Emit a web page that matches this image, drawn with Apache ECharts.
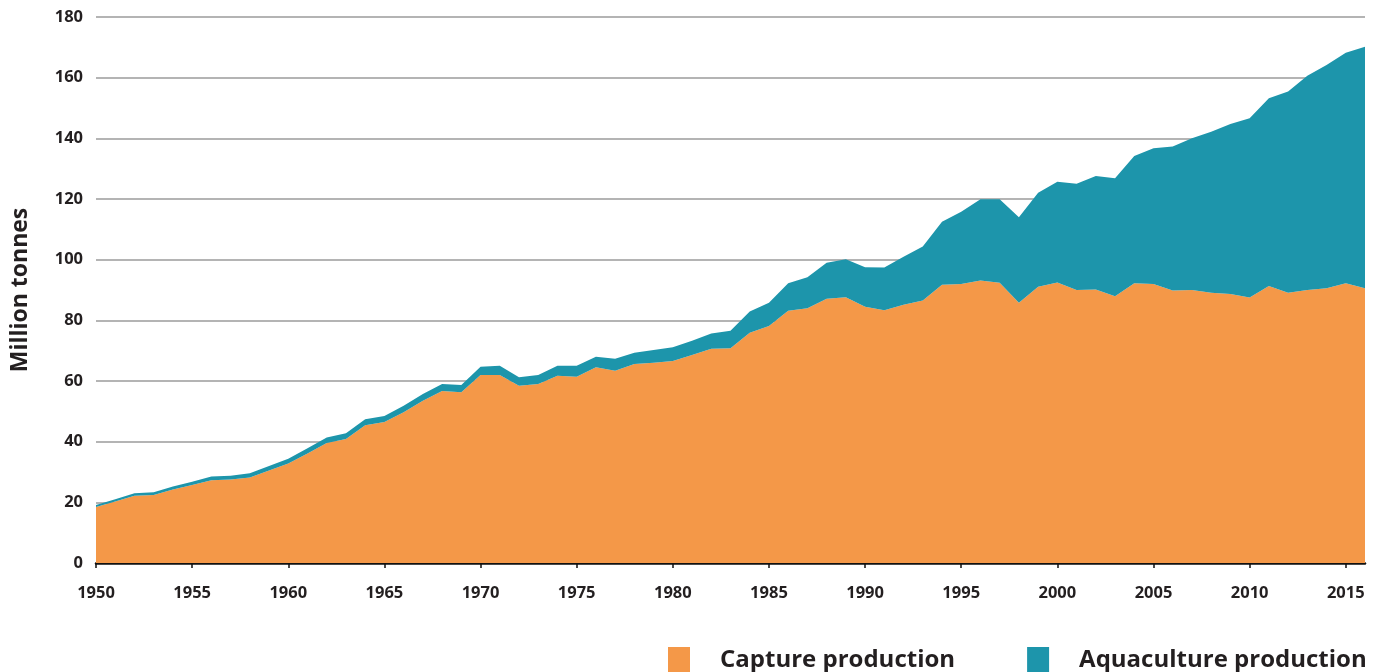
<!DOCTYPE html>
<html>
<head>
<meta charset="utf-8">
<title>World capture fisheries and aquaculture production</title>
<script src="https://cdn.jsdelivr.net/npm/echarts@6/dist/echarts.min.js"></script>
<style>
  html, body { margin: 0; padding: 0; background: #fff; }
  #chart { width: 1378px; height: 672px; }
</style>
</head>
<body>
<div id="chart"></div>
<script>
// million tonnes
const years = [];
for (let y = 1950; y <= 2016; y++) years.push(String(y));

const capture = [
  18.5, 20.3, 22.2, 22.4, 24.2, 25.7, 27.3, 27.5, 28.2, 30.5, // 1950s
  32.8, 36.1, 39.6, 40.9, 45.4, 46.5, 49.7, 53.5, 56.7, 56.3, // 1960s
  62.0, 62.0, 58.4, 59.0, 61.7, 61.4, 64.5, 63.4, 65.6, 66.0, // 1970s
  66.6, 68.6, 70.6, 70.8, 75.9, 78.1, 83.2, 84.0, 87.1, 87.6, // 1980s
  84.5, 83.3, 85.1, 86.5, 91.7, 92.0, 93.1, 92.4, 85.8, 91.1, // 1990s
  92.5, 90.0, 90.2, 87.9, 92.2, 92.0, 89.8, 90.0, 89.1, 88.7, // 2000s
  87.5, 91.3, 89.1, 90.0, 90.6, 92.2, 90.6                    // 2010s
];

const aquaculture = [
  0.6, 0.7, 0.8, 0.9, 1.0, 1.1, 1.2, 1.3, 1.4, 1.5,
  1.6, 1.7, 1.8, 1.9, 2.0, 2.0, 2.1, 2.2, 2.3, 2.4,
  2.7, 3.0, 2.8, 3.0, 3.3, 3.6, 3.5, 3.9, 3.7, 4.2,
  4.5, 4.7, 5.1, 5.8, 7.0, 7.7, 9.0, 10.2, 11.9, 12.5,
  13.0, 14.1, 15.9, 17.8, 20.8, 23.8, 26.8, 27.5, 28.2, 31.0,
  33.2, 35.0, 37.4, 38.9, 42.0, 44.7, 47.5, 50.0, 53.1, 56.0,
  59.1, 61.9, 66.3, 70.6, 73.6, 76.0, 79.6
];

const xTicks = ["1950", "1955", "1960", "1965", "1970", "1975", "1980", "1985", "1990", "1995", "2000", "2005", "2010", "2015"];
const seriesNames = ["Capture production", "Aquaculture production"];

const ORANGE = "#f49848";
const TEAL = "#1d95ab";
const INK = "#231f20";
const FONT = "'Open Sans', 'DejaVu Sans', sans-serif";

const chart = echarts.init(document.getElementById("chart"), null, { renderer: "canvas" });

const tickLabel = {
  color: INK,
  fontFamily: FONT,
  fontWeight: "bold",
  fontSize: 16.5,
};
const onTick = (i, v) => xTicks.includes(v);

chart.setOption({
  animation: false,
  grid: { left: 96, right: 13, top: 17, bottom: 109, containLabel: false },
  legend: {
    left: 663,
    top: 642,
    icon: "rect",
    itemWidth: 22,
    itemHeight: 26,
    itemGap: 72,
    textStyle: {
      color: INK,
      fontFamily: FONT,
      fontWeight: "bold",
      fontSize: 24,
      padding: [0, 0, 0, 25],
    },
    data: seriesNames,
  },
  xAxis: {
    type: "category",
    data: years,
    boundaryGap: false,
    axisLine: { show: true, lineStyle: { color: "#111", width: 2.5 } },
    axisTick: {
      show: true,
      length: 5,
      interval: onTick,
      lineStyle: { color: "#111", width: 1.5 },
    },
    axisLabel: { ...tickLabel, margin: 22, interval: onTick },
    splitLine: { show: false },
  },
  yAxis: {
    type: "value",
    min: 0,
    max: 180,
    interval: 20,
    name: "Million tonnes",
    nameLocation: "middle",
    nameGap: 64,
    nameRotate: 90,
    nameTextStyle: {
      color: INK,
      fontFamily: FONT,
      fontWeight: "bold",
      fontSize: 23,
    },
    axisLine: { show: false },
    axisTick: { show: false },
    axisLabel: { ...tickLabel, margin: 13 },
    splitLine: { show: true, lineStyle: { color: "#9b9b9b", width: 1.5 } },
  },
  series: [
    {
      name: seriesNames[0],
      type: "line",
      stack: "total",
      data: capture,
      showSymbol: false,
      lineStyle: { width: 0 },
      itemStyle: { color: ORANGE },
      areaStyle: { color: ORANGE, opacity: 1 },
    },
    {
      name: seriesNames[1],
      type: "line",
      stack: "total",
      data: aquaculture,
      showSymbol: false,
      lineStyle: { width: 0 },
      itemStyle: { color: TEAL },
      areaStyle: { color: TEAL, opacity: 1 },
    },
  ],
});
</script>
</body>
</html>
